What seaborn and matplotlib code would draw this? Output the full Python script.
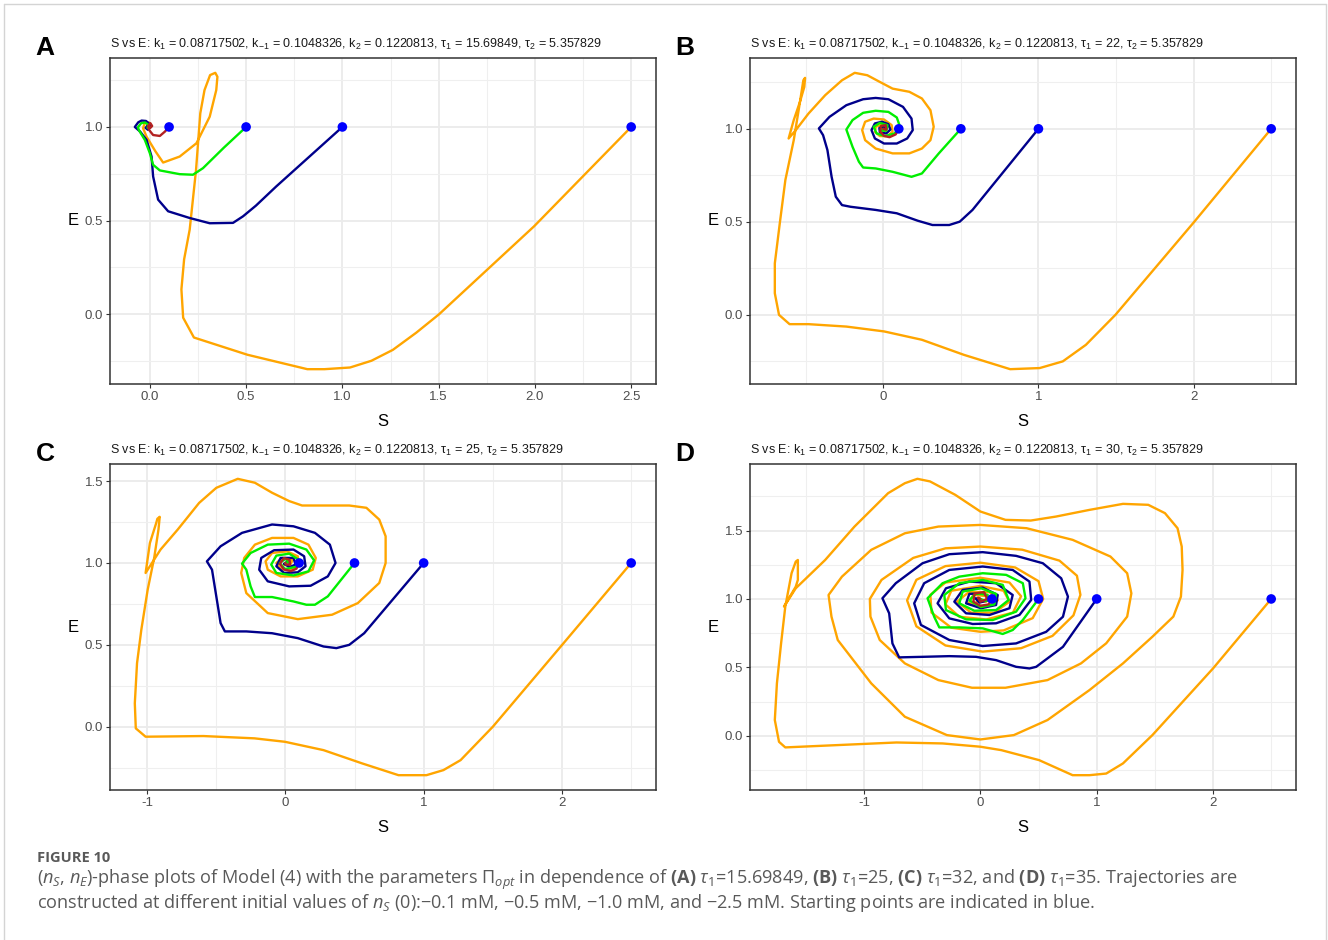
import matplotlib
matplotlib.use("Agg")
import matplotlib.pyplot as plt
import pandas as pd
import seaborn as sns
from matplotlib.lines import Line2D
from matplotlib.ticker import FixedLocator

# ---------------------------------------------------------------- data
# Initial substrate values (blue starting points), E(0) = 1 for all runs
START_S = [0.1, 0.5, 1.0, 2.5]
START_E = [1.0, 1.0, 1.0, 1.0]

TAU1 = ["15.69849", "22", "25", "30"]
PANEL_LETTERS = ["A", "B", "C", "D"]

# ---- panel A (tau1 = 15.69849)
A_RED_S = [0.1, 0.078, 0.052, 0.017, -0.004, -0.009, 0.003, 0.012, 0.002, 0.0]
A_RED_E = [1.0, 0.975, 0.952, 0.957, 0.984, 1.005, 1.02, 1.005, 0.995, 1.0]
A_GREEN_S = [0.5, 0.385, 0.276, 0.224, 0.155, 0.052, 0.017, 0.0, -0.026, -0.055,
             -0.062, -0.045, -0.025, -0.008, -0.012, -0.005]
A_GREEN_E = [1.0, 0.89, 0.78, 0.745, 0.748, 0.768, 0.798, 0.86, 0.931, 0.98,
             0.998, 1.02, 1.024, 1.012, 0.995, 1.0]
A_NAVY_S = [1.0, 0.656, 0.551, 0.484, 0.432, 0.311, 0.207, 0.095, 0.043, 0.017,
            0.009, -0.017, -0.05, -0.078, -0.06, -0.043, -0.02, -0.006, 0.004,
            -0.01, -0.022, -0.012, -0.002]
A_NAVY_E = [1.0, 0.682, 0.58, 0.523, 0.488, 0.486, 0.514, 0.55, 0.612, 0.736,
            0.842, 0.931, 0.975, 1.0, 1.025, 1.034, 1.032, 1.02, 1.0,
            0.985, 0.995, 1.008, 1.0]
A_ORANGE_S = [2.5, 1.996, 1.502, 1.384, 1.262, 1.151, 1.04, 0.907, 0.818, 0.507,
              0.229, 0.173, 0.164, 0.178, 0.207, 0.24, 0.262, 0.284, 0.313, 0.34,
              0.351, 0.345, 0.311, 0.242, 0.155, 0.069, 0.029, -0.017, -0.035,
              -0.027, -0.004, 0.008, -0.005, -0.012, 0.0]
A_ORANGE_E = [1.0, 0.47, 0.0, -0.098, -0.19, -0.248, -0.284, -0.293, -0.293, -0.216,
              -0.124, -0.018, 0.133, 0.293, 0.452, 0.771, 1.073, 1.197, 1.277, 1.289,
              1.268, 1.197, 1.055, 0.913, 0.842, 0.81, 0.87, 0.948, 0.993,
              1.02, 1.024, 1.005, 0.99, 1.002, 1.0]

# ---- panel B (tau1 = 22)
B_RED_S = [0.1, 0.08, 0.04, 0.005, -0.02, -0.015, 0.015, 0.02, 0.0]
B_RED_E = [1.0, 0.97, 0.955, 0.962, 0.985, 1.015, 1.02, 0.995, 1.0]
B_GREEN_S = [0.5, 0.358, 0.249, 0.182, 0.06, -0.049, -0.13, -0.157, -0.198, -0.238,
             -0.198, -0.13, -0.049, 0.033, 0.087, 0.108, 0.073, 0.011, -0.043,
             -0.062, -0.022, 0.027, 0.02, -0.01, 0.0]
B_GREEN_E = [1.0, 0.868, 0.76, 0.742, 0.769, 0.787, 0.792, 0.823, 0.903, 0.996,
             1.047, 1.086, 1.097, 1.091, 1.061, 1.011, 0.975, 0.961, 0.975,
             1.011, 1.032, 1.02, 0.99, 0.99, 1.0]
B_NAVY_S = [1.0, 0.575, 0.493, 0.425, 0.317, 0.222, 0.087, -0.049, -0.211, -0.266,
            -0.306, -0.333, -0.36, -0.388, -0.415, -0.347, -0.238, -0.13, -0.049,
            0.033, 0.127, 0.182, 0.19, 0.154, 0.087, 0.005, -0.054, -0.076, -0.054,
            -0.008, 0.033, 0.046, 0.019, -0.022, -0.025, 0.0, 0.01]
B_NAVY_E = [1.0, 0.564, 0.501, 0.483, 0.483, 0.506, 0.546, 0.564, 0.581, 0.59,
            0.635, 0.742, 0.886, 0.966, 1.002, 1.064, 1.127, 1.159, 1.166,
            1.159, 1.118, 1.055, 0.993, 0.948, 0.921, 0.921, 0.948, 0.993, 1.029,
            1.038, 1.025, 0.996, 0.975, 0.98, 1.005, 1.012, 1.0]
B_ORANGE_S = [2.5, 2.0, 1.496, 1.306, 1.157, 1.008, 0.818, 0.52, 0.249, 0.005,
              -0.238, -0.482, -0.604, -0.672, -0.699, -0.699, -0.667, -0.631, -0.577,
              -0.542, -0.515, -0.504, -0.509, -0.537, -0.577, -0.61, -0.564, -0.482,
              -0.374, -0.266, -0.184, -0.103, -0.022, 0.06, 0.168, 0.249, 0.304,
              0.325, 0.304, 0.249, 0.168, 0.06, -0.049, -0.117, -0.136, -0.117,
              -0.062, 0.005, 0.054, 0.06, 0.027, -0.022, -0.054, -0.049, -0.008,
              0.027, 0.011, -0.01, 0.0]
B_ORANGE_E = [1.0, 0.496, 0.0, -0.161, -0.25, -0.286, -0.292, -0.215, -0.134, -0.089,
              -0.063, -0.05, -0.05, 0.0, 0.116, 0.277, 0.492, 0.725, 0.939,
              1.118, 1.261, 1.274, 1.225, 1.145, 1.047, 0.948, 0.993, 1.082,
              1.181, 1.261, 1.301, 1.288, 1.252, 1.216, 1.199, 1.163, 1.1,
              1.011, 0.939, 0.894, 0.868, 0.868, 0.894, 0.939, 0.993, 1.038,
              1.055, 1.05, 1.02, 0.984, 0.961, 0.961, 0.984, 1.011, 1.023,
              1.007, 0.989, 0.995, 1.0]

# ---- panel C (tau1 = 25)
C_RED_S = [0.1, 0.08, 0.04, -0.01, -0.04, -0.01, 0.03, 0.035, 0.005, 0.0]
C_RED_E = [1.0, 0.965, 0.95, 0.96, 0.995, 1.03, 1.02, 0.99, 0.99, 1.0]
C_GREEN_S = [0.5, 0.307, 0.214, 0.152, 0.059, -0.096, -0.22, -0.251, -0.282, -0.313,
             -0.251, -0.127, 0.028, 0.152, 0.208, 0.167, 0.059, -0.065, -0.102,
             -0.065, 0.028, 0.096, 0.074, -0.003, -0.04, 0.0, 0.03, 0.0]
C_GREEN_E = [1.0, 0.796, 0.745, 0.745, 0.765, 0.792, 0.792, 0.857, 0.959, 0.996,
             1.061, 1.112, 1.118, 1.082, 1.016, 0.949, 0.924, 0.939, 0.99,
             1.045, 1.057, 1.02, 0.976, 0.963, 1.0, 1.025, 1.005, 1.0]
C_NAVY_S = [1.0, 0.57, 0.462, 0.369, 0.276, 0.09, -0.096, -0.282, -0.437, -0.468,
            -0.499, -0.53, -0.567, -0.468, -0.313, -0.096, 0.059, 0.214, 0.322,
            0.363, 0.307, 0.183, 0.028, -0.127, -0.189, -0.174, -0.081, 0.059,
            0.136, 0.146, 0.09, -0.009, -0.065, -0.034, 0.059, 0.074, 0.03, -0.01,
            0.02, 0.03]
C_NAVY_E = [1.0, 0.571, 0.5, 0.48, 0.49, 0.541, 0.571, 0.582, 0.582, 0.633,
            0.796, 0.959, 1.01, 1.102, 1.184, 1.235, 1.224, 1.184, 1.112,
            1.0, 0.918, 0.861, 0.857, 0.888, 0.959, 1.031, 1.078, 1.082,
            1.041, 0.98, 0.943, 0.939, 0.98, 1.031, 1.031, 0.99, 0.975, 0.995,
            1.01, 1.0]
C_ORANGE_S = [2.5, 2.011, 1.5, 1.267, 1.143, 1.02, 0.818, 0.555, 0.276, -0.003,
              -0.223, -0.592, -1.01, -1.081, -1.088, -1.072, -1.041, -0.995, -0.948,
              -0.917, -0.908, -0.925, -0.933, -0.979, -1.01, -0.964, -0.902, -0.778,
              -0.623, -0.499, -0.344, -0.22, -0.096, 0.028, 0.121, 0.462, 0.586,
              0.679, 0.725, 0.725, 0.679, 0.524, 0.338, 0.09, -0.127, -0.282,
              -0.319, -0.297, -0.22, -0.096, 0.059, 0.167, 0.22, 0.198, 0.09,
              -0.034, -0.127, -0.143, -0.096, 0.012, 0.09, 0.096, 0.043, -0.034,
              -0.065, -0.019, 0.053, 0.03, -0.01, 0.0]
C_ORANGE_E = [1.0, 0.51, 0.0, -0.204, -0.265, -0.296, -0.296, -0.224, -0.143, -0.092,
              -0.071, -0.057, -0.061, -0.01, 0.143, 0.388, 0.592, 0.837, 1.031,
              1.204, 1.282, 1.27, 1.245, 1.122, 0.939, 1.0, 1.082, 1.204,
              1.367, 1.459, 1.514, 1.49, 1.429, 1.378, 1.351, 1.351, 1.337,
              1.265, 1.163, 1.0, 0.878, 0.755, 0.684, 0.657, 0.694, 0.816,
              0.939, 1.031, 1.112, 1.153, 1.153, 1.112, 1.031, 0.959, 0.918,
              0.918, 0.959, 1.01, 1.061, 1.071, 1.041, 0.99, 0.959, 0.963,
              1.0, 1.031, 1.016, 0.985, 0.99, 1.0]

# ---- panel D (tau1 = 30)
D_RED_S = [0.1, 0.07, 0.0, -0.06, -0.05, 0.03, 0.06, 0.0, -0.02, 0.0]
D_RED_E = [1.0, 0.96, 0.95, 0.98, 1.04, 1.05, 1.0, 0.98, 1.01, 1.0]
D_GREEN_S = [0.5, 0.365, 0.278, 0.192, 0.02, -0.181, -0.353, -0.397, -0.454, -0.325,
             -0.181, 0.02, 0.222, 0.365, 0.388, 0.307, 0.106, -0.123, -0.296, -0.31,
             -0.181, 0.02, 0.192, 0.244, 0.135, -0.052, -0.181, -0.152, 0.006,
             0.135, 0.12, 0.006, -0.095, -0.037, 0.063, 0.05, 0.0]
D_GREEN_E = [1.0, 0.846, 0.773, 0.744, 0.785, 0.792, 0.792, 0.87, 1.005, 1.115,
             1.163, 1.188, 1.176, 1.115, 1.005, 0.907, 0.846, 0.851, 0.919, 1.029,
             1.115, 1.139, 1.103, 0.993, 0.919, 0.914, 0.968, 1.054, 1.078,
             1.037, 0.96, 0.94, 0.99, 1.04, 1.03, 0.985, 1.0]
D_NAVY_S = [1.0, 0.71, 0.48, 0.422, 0.307, 0.135, -0.037, -0.267, -0.497, -0.698,
            -0.756, -0.784, -0.842, -0.727, -0.497, -0.267, 0.02, 0.307, 0.537,
            0.695, 0.753, 0.71, 0.566, 0.307, 0.02, -0.267, -0.511, -0.569, -0.483,
            -0.267, 0.02, 0.278, 0.422, 0.437, 0.336, 0.135, -0.066, -0.267, -0.368,
            -0.296, -0.095, 0.135, 0.278, 0.25, 0.078, -0.123, -0.224, -0.152, 0.02,
            0.149, 0.135, 0.006, -0.123, -0.095, 0.034, 0.078, -0.009, -0.043, 0.0]
D_NAVY_E = [1.0, 0.65, 0.504, 0.492, 0.504, 0.553, 0.577, 0.582, 0.577, 0.573,
            0.675, 0.895, 1.005, 1.115, 1.261, 1.327, 1.342, 1.315, 1.261,
            1.151, 1.017, 0.87, 0.76, 0.675, 0.656, 0.7, 0.81, 0.968, 1.115,
            1.212, 1.237, 1.212, 1.127, 0.993, 0.883, 0.822, 0.817, 0.858, 0.968,
            1.078, 1.127, 1.115, 1.029, 0.932, 0.883, 0.895, 0.98, 1.066, 1.083,
            1.029, 0.956, 0.932, 0.968, 1.037, 1.042, 0.993, 0.973, 1.005, 1.0]
D_ORANGE_S = [2.5, 2.001, 1.479, 1.226, 1.082, 0.938, 0.793, 0.505, 0.18, 0.0,
              -0.325, -0.721, -1.226, -1.677, -1.731, -1.767, -1.749, -1.713, -1.677,
              -1.623, -1.587, -1.569, -1.569, -1.587, -1.688, -1.587, -1.334, -1.082,
              -0.793, -0.649, -0.541, -0.433, -0.216, 0.0, 0.216, 0.433, 0.649, 0.938,
              1.226, 1.443, 1.587, 1.695, 1.731, 1.738, 1.724, 1.659, 1.479, 1.226,
              0.938, 0.577, 0.288, 0.0, -0.288, -0.649, -0.938, -1.226, -1.28, -1.305,
              -1.19, -0.938, -0.649, -0.361, 0.0, 0.397, 0.793, 1.118, 1.262, 1.298,
              1.262, 1.082, 0.865, 0.577, 0.216, -0.072, -0.361, -0.649, -0.865,
              -0.945, -0.95, -0.85, -0.577, -0.3, 0.0, 0.36, 0.68, 0.83, 0.86, 0.8,
              0.62, 0.35, 0.02, -0.3, -0.55, -0.63, -0.55, -0.3, 0.0, 0.3, 0.5, 0.54,
              0.45, 0.2, 0.0, -0.25, -0.42, -0.43, -0.3, 0.0, 0.25, 0.35, 0.28, 0.05,
              -0.18, -0.3, -0.25, 0.0, 0.2, 0.25, 0.12, -0.08, -0.2, -0.1, 0.08, 0.15,
              0.05, -0.1, -0.06, 0.06, 0.05, -0.03, 0.0]
D_ORANGE_E = [1.0, 0.493, 0.005, -0.202, -0.276, -0.288, -0.288, -0.178, -0.105, -0.08,
              -0.056, -0.049, -0.068, -0.085, -0.044, 0.115, 0.383, 0.676, 0.944,
              1.188, 1.273, 1.285, 1.139, 1.09, 0.944, 1.078, 1.285, 1.529,
              1.773, 1.846, 1.878, 1.859, 1.761, 1.639, 1.578, 1.573, 1.602, 1.651,
              1.695, 1.688, 1.627, 1.517, 1.383, 1.212, 1.017, 0.871, 0.724, 0.529,
              0.334, 0.115, 0.005, -0.027, 0.005, 0.139, 0.383, 0.7, 0.871, 1.029,
              1.163, 1.359, 1.48, 1.529, 1.541, 1.517, 1.432, 1.31, 1.188, 1.041,
              0.871, 0.676, 0.529, 0.407, 0.351, 0.351, 0.407, 0.529, 0.7,
              0.871, 1.0, 1.139, 1.3, 1.37, 1.383, 1.36, 1.28, 1.17, 1.03, 0.88,
              0.73, 0.64, 0.615, 0.66, 0.8, 0.99, 1.14, 1.24, 1.265, 1.23, 1.13, 1.0,
              0.86, 0.77, 0.76, 0.79, 0.9, 1.03, 1.12, 1.155, 1.12, 1.02, 0.9, 0.85,
              0.87, 0.96, 1.06, 1.095, 1.06, 0.98, 0.9, 0.9, 0.98, 1.05, 1.05, 0.99,
              0.94, 0.97, 1.03, 1.02, 0.98, 0.98, 1.0]

# ---- axis breaks and labels
A_XMAJOR = [0.0, 0.5, 1.0, 1.5, 2.0, 2.5]
A_XLABELS = ["0.0", "0.5", "1.0", "1.5", "2.0", "2.5"]
A_XMINOR = [0.25, 0.75, 1.25, 1.75, 2.25]
AB_YMAJOR = [0.0, 0.5, 1.0]
AB_YLABELS = ["0.0", "0.5", "1.0"]
AB_YMINOR = [-0.25, 0.25, 0.75, 1.25]
BCD_XMAJOR = [-1, 0, 1, 2]
BCD_XLABELS = ["-1", "0", "1", "2"]
BC_XMINOR = [-0.5, 0.5, 1.5, 2.5]
D_XMINOR = [-1.5, -0.5, 0.5, 1.5, 2.5]
CD_YMAJOR = [0.0, 0.5, 1.0, 1.5]
CD_YLABELS = ["0.0", "0.5", "1.0", "1.5"]
C_YMINOR = [-0.25, 0.25, 0.75, 1.25]
D_YMINOR = [-0.25, 0.25, 0.75, 1.25, 1.75]

RUN_LABELS = ["S0 = 2.5", "S0 = 1.0", "S0 = 0.5", "S0 = 0.1"]
RUN_COLORS = ["#FFA500", "#00008B", "#00EE00", "#B22222"]

# ---------------------------------------------------------------- style
sns.set_style("white")
plt.rcParams["font.family"] = ["Liberation Sans", "DejaVu Sans"]
plt.rcParams["axes.unicode_minus"] = False
plt.rcParams["mathtext.fontset"] = "custom"
plt.rcParams["mathtext.rm"] = "Open Sans"
plt.rcParams["mathtext.it"] = "Open Sans:italic"
plt.rcParams["mathtext.bf"] = "Open Sans:bold"
plt.rcParams["mathtext.sf"] = "Liberation Sans"

W, H = 1328, 940
fig = plt.figure(figsize=(W / 100, H / 100), dpi=100)
fig.patch.set_facecolor("white")

# frame around the whole figure
frame_kw = dict(color="#D4D4D4", lw=1.0, transform=fig.transFigure)
fig.add_artist(Line2D([4 / W, 4 / W], [0, 1 - 4 / H], **frame_kw))
fig.add_artist(Line2D([4 / W, 1326 / W], [1 - 4 / H, 1 - 4 / H], **frame_kw))
fig.add_artist(Line2D([1326 / W, 1326 / W], [0, 1 - 4 / H], **frame_kw))


def px_axes(left, top, right, bottom):
    return fig.add_axes([left / W, 1 - bottom / H, (right - left) / W, (bottom - top) / H])


panels = [
    dict(box=(110, 58, 656, 384), runs=[(A_ORANGE_S, A_ORANGE_E), (A_NAVY_S, A_NAVY_E),
                                       (A_GREEN_S, A_GREEN_E), (A_RED_S, A_RED_E)],
         xmaj=A_XMAJOR, xlab=A_XLABELS, xmin=A_XMINOR,
         ymaj=AB_YMAJOR, ylab=AB_YLABELS, ymin=AB_YMINOR),
    dict(box=(750, 58, 1296, 384), runs=[(B_ORANGE_S, B_ORANGE_E), (B_NAVY_S, B_NAVY_E),
                                        (B_GREEN_S, B_GREEN_E), (B_RED_S, B_RED_E)],
         xmaj=BCD_XMAJOR, xlab=BCD_XLABELS, xmin=BC_XMINOR,
         ymaj=AB_YMAJOR, ylab=AB_YLABELS, ymin=AB_YMINOR),
    dict(box=(110, 464, 656, 790), runs=[(C_ORANGE_S, C_ORANGE_E), (C_NAVY_S, C_NAVY_E),
                                        (C_GREEN_S, C_GREEN_E), (C_RED_S, C_RED_E)],
         xmaj=BCD_XMAJOR, xlab=BCD_XLABELS, xmin=BC_XMINOR,
         ymaj=CD_YMAJOR, ylab=CD_YLABELS, ymin=C_YMINOR),
    dict(box=(750, 464, 1296, 790), runs=[(D_ORANGE_S, D_ORANGE_E), (D_NAVY_S, D_NAVY_E),
                                         (D_GREEN_S, D_GREEN_E), (D_RED_S, D_RED_E)],
         xmaj=BCD_XMAJOR, xlab=BCD_XLABELS, xmin=D_XMINOR,
         ymaj=CD_YMAJOR, ylab=CD_YLABELS, ymin=D_YMINOR),
]

for i, p in enumerate(panels):
    ax = px_axes(*p["box"])
    frames = []
    for label, (s, e) in zip(RUN_LABELS, p["runs"]):
        frames.append(pd.DataFrame({"S": s, "E": e, "run": label}))
    df = pd.concat(frames, ignore_index=True)
    sns.lineplot(data=df, x="S", y="E", hue="run", hue_order=RUN_LABELS,
                 palette=RUN_COLORS, sort=False, estimator=None, lw=1.7,
                 legend=False, ax=ax, zorder=3)
    starts = pd.DataFrame({"S": START_S, "E": START_E})
    sns.scatterplot(data=starts, x="S", y="E", color="#0000FF", s=48,
                    edgecolor="none", ax=ax, zorder=5)

    # ggplot-like 5 % expansion of the data range
    all_s = list(df["S"]) + START_S
    all_e = list(df["E"]) + START_E
    sx = max(all_s) - min(all_s)
    sy = max(all_e) - min(all_e)
    ax.set_xlim(min(all_s) - 0.05 * sx, max(all_s) + 0.05 * sx)
    ax.set_ylim(min(all_e) - 0.05 * sy, max(all_e) + 0.05 * sy)

    ax.xaxis.set_major_locator(FixedLocator(p["xmaj"]))
    ax.set_xticklabels(p["xlab"])
    ax.xaxis.set_minor_locator(FixedLocator(p["xmin"]))
    ax.yaxis.set_major_locator(FixedLocator(p["ymaj"]))
    ax.set_yticklabels(p["ylab"])
    ax.yaxis.set_minor_locator(FixedLocator(p["ymin"]))

    ax.set_axisbelow(True)
    ax.grid(which="major", color="#EBEBEB", lw=1.3)
    ax.grid(which="minor", color="#EFEFEF", lw=0.8)
    ax.tick_params(which="major", direction="out", length=3, width=0.8,
                   color="#333333", labelcolor="#4D4D4D", labelsize=9.5, pad=2,
                   bottom=True, left=True)
    ax.tick_params(which="minor", length=0)
    for sp in ax.spines.values():
        sp.set_color("#333333")
        sp.set_linewidth(1.1)

    ax.set_xlabel("S", fontsize=12, color="black")
    ax.xaxis.set_label_coords(0.5, -0.092)
    ax.set_ylabel("E", fontsize=12, color="black", rotation=0, ha="center", va="center")
    ax.yaxis.set_label_coords(-0.068, 0.5)

    title = (r"S vs E: k$_{\mathsf{1}}$ = 0.08717502, k$_{\mathsf{-1}}$ = 0.1048326, "
             r"k$_{\mathsf{2}}$ = 0.1220813, τ$_{\mathsf{1}}$ = " + TAU1[i] +
             r", τ$_{\mathsf{2}}$ = 5.357829")
    ax.set_title(title, loc="left", fontsize=9.0, color="#1A1A1A", pad=7)

    left, top = p["box"][0], p["box"][1]
    fig.text((left - 65) / W, 1 - (top - 10) / H, PANEL_LETTERS[i], fontsize=19,
             fontweight="bold", ha="center", va="center", color="black")

# ---------------------------------------------------------------- caption
cap_kw = dict(family=["Open Sans", "DejaVu Sans"], color="#595959", ha="left", va="center")
fig.text(37 / W, 1 - 858 / H, "FIGURE 10", fontsize=10.5, fontweight="bold", **cap_kw)
fig.text(37 / W, 1 - 880 / H,
         r"($n_S$, $n_E$)-phase plots of Model (4) with the parameters $\Pi_{opt}$ in "
         r"dependence of $\mathbf{(A)}$ $\tau_1$=15.69849, $\mathbf{(B)}$ $\tau_1$=25, "
         r"$\mathbf{(C)}$ $\tau_1$=32, and $\mathbf{(D)}$ $\tau_1$=35. Trajectories are",
         fontsize=13.1, **cap_kw)
fig.text(37 / W, 1 - 903 / H,
         r"constructed at different initial values of $n_S$ (0):−0.1 mM, −0.5 mM, "
         r"−1.0 mM, and −2.5 mM. Starting points are indicated in blue.",
         fontsize=13.1, **cap_kw)

fig.savefig("out.png", dpi=100, facecolor="white")
